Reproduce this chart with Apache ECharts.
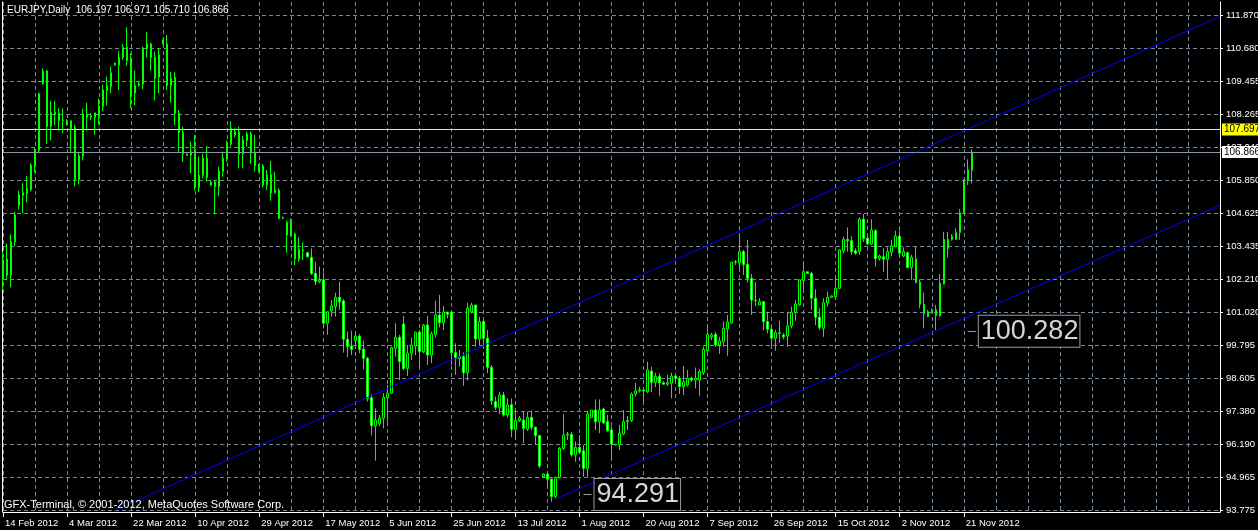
<!DOCTYPE html>
<html>
<head>
<meta charset="utf-8">
<script src="https://cdn.jsdelivr.net/npm/echarts@6/dist/echarts.min.js"></script>
<style>
html,body{margin:0;padding:0;background:#000;}
#chart{width:1258px;height:530px;}
</style>
</head>
<body>
<div id="chart"></div>
<script>
// ---------------- data ----------------
const symbolName = 'EURJPY,Daily';
const copyrightText = 'GFX-Terminal, \u00a9 2001-2012, MetaQuotes Software Corp.';

// date labels shown every 16 bars (bars include Sundays)
const xTickLabels = ['14 Feb 2012','4 Mar 2012','22 Mar 2012','10 Apr 2012','29 Apr 2012','17 May 2012',
  '5 Jun 2012','25 Jun 2012','13 Jul 2012','1 Aug 2012','20 Aug 2012','7 Sep 2012','26 Sep 2012',
  '15 Oct 2012','2 Nov 2012','21 Nov 2012'];
const barsPerDateLabel = 16;
const barsPerGridLine = 8;
const totalSlots = 305; // bars + empty chart shift on the right

const opens = [
102.19,102.94,102.34,103.57,104.91,105.28,105.35,105.49,106.38,106.93,
109.38,109.85,107.81,108.33,108.30,108.04,108.02,108.02,107.76,105.85,
106.71,108.26,108.15,108.14,108.27,108.54,109.13,109.27,110.06,110.06,
110.34,110.72,110.25,109.03,109.32,109.36,110.67,110.84,110.35,109.62,
110.99,110.84,109.31,109.61,108.29,107.58,106.79,106.76,106.91,105.56,
106.01,106.64,105.76,105.60,105.60,106.15,106.62,107.15,107.49,107.61,
106.79,107.29,107.53,106.84,106.31,106.36,105.66,106.03,105.37,105.47,
104.43,103.82,104.29,103.86,102.94,103.27,103.17,103.00,102.41,102.11,
102.17,100.58,101.03,101.19,101.53,101.40,99.99,99.74,99.94,100.11,
99.63,99.29,97.84,96.81,96.90,97.09,97.84,98.01,99.66,100.06,
100.55,98.92,99.48,99.75,100.25,99.53,100.51,99.41,100.17,100.88,
100.60,100.99,100.99,99.50,99.29,99.35,98.76,100.99,101.25,100.00,
100.64,100.03,98.96,97.70,97.49,97.94,97.21,97.58,96.68,97.00,
97.02,96.69,97.12,96.76,96.45,94.94,95.04,94.85,94.21,94.92,
95.98,96.47,96.50,95.74,96.02,95.89,95.25,97.12,97.39,96.96,
97.43,96.96,96.66,96.13,96.11,96.51,96.96,97.00,97.98,98.09,
98.13,98.06,98.82,98.41,98.62,98.39,98.34,98.37,98.64,98.56,
98.25,98.31,98.56,98.49,98.49,98.76,99.57,100.08,100.17,99.78,
99.90,100.37,100.60,102.82,102.80,103.21,102.74,102.23,101.43,101.25,
101.37,100.64,100.36,100.03,100.23,100.15,100.11,100.48,100.97,101.25,
102.14,102.47,102.41,101.50,100.80,100.39,101.33,101.53,101.55,101.86,
103.24,103.66,103.61,103.24,103.21,104.40,103.70,103.49,103.98,102.96,
103.02,102.93,103.19,103.39,103.78,103.05,103.17,102.63,102.94,102.09,
101.28,100.82,101.00,101.07,100.86,102.02,103.66,103.66,103.66,103.91,
104.64,105.82,106.197];

const highs = [
103.19,103.51,103.84,104.67,105.45,105.73,106.00,106.46,107.05,109.05,
109.95,109.89,108.75,108.75,108.48,108.46,108.08,108.02,107.87,106.83,
108.46,108.68,108.30,108.31,108.83,109.34,109.64,110.01,110.15,110.58,
110.84,111.45,110.50,109.86,109.48,110.74,111.27,110.89,110.56,110.68,
110.99,111.17,109.82,109.80,108.41,107.80,106.82,107.25,107.49,106.70,
106.80,107.09,105.84,105.84,106.33,106.88,107.29,108.00,107.74,107.80,
107.46,107.62,107.62,107.49,106.43,106.43,106.21,106.54,106.15,105.54,
104.50,104.35,104.43,103.91,103.74,103.55,103.19,103.33,102.84,102.66,
102.44,101.00,101.43,101.70,102.11,101.46,100.27,100.31,100.21,100.18,
99.94,99.35,97.98,97.45,97.21,98.01,98.31,99.72,100.58,100.15,
100.85,99.78,100.06,100.27,100.33,100.55,100.85,100.27,101.40,101.62,
101.21,100.99,101.03,99.84,99.60,99.50,101.33,101.33,101.25,100.82,
100.70,100.33,99.04,97.88,98.06,98.06,97.82,97.82,97.33,97.17,
97.33,97.33,97.37,96.78,96.47,95.07,95.13,94.88,94.94,96.04,
97.24,96.59,96.59,96.23,96.47,96.11,97.37,97.39,97.78,97.78,
97.48,97.21,96.78,96.14,96.84,97.39,97.17,98.04,98.39,98.25,
98.13,99.17,98.98,98.76,98.74,98.45,98.68,98.76,98.74,98.64,
99.01,98.86,98.62,98.95,98.89,99.72,100.45,100.23,100.27,100.08,
100.64,100.88,102.84,102.90,103.86,103.27,103.64,102.39,102.09,101.50,
101.40,101.00,100.45,100.33,100.67,100.21,101.00,101.19,101.43,102.19,
102.80,102.47,102.47,101.83,101.13,101.50,101.74,101.60,102.31,103.30,
103.76,104.10,103.78,103.33,104.47,104.59,103.78,104.40,104.03,103.11,
103.33,103.37,103.64,103.98,103.98,103.37,103.21,103.09,103.39,102.19,
101.70,101.07,101.13,101.25,102.38,103.94,103.94,103.85,104.07,104.77,
105.87,106.60,106.971];

const lows = [
101.79,102.16,101.90,103.41,104.75,104.63,105.02,105.42,106.11,106.85,
109.34,107.17,107.29,107.86,107.66,107.56,107.83,106.89,105.61,105.68,
106.56,107.66,108.05,107.50,107.87,108.36,108.58,109.03,110.05,109.15,
110.25,110.04,108.48,108.58,109.27,109.18,110.34,109.86,108.76,109.03,
110.83,109.15,108.68,107.86,106.88,106.51,106.74,106.09,105.45,105.41,
105.90,105.78,105.64,104.58,105.25,105.96,106.51,107.07,107.41,106.27,
106.27,107.07,106.43,106.15,106.12,105.57,105.47,105.08,105.35,104.40,
104.40,103.17,103.76,102.72,102.84,102.90,103.00,102.35,101.98,102.05,
100.39,100.15,100.82,100.82,101.07,99.50,99.33,99.41,99.78,99.48,
98.89,97.70,96.45,95.53,96.80,96.72,96.96,97.98,99.35,98.49,
98.86,98.64,99.23,99.41,99.01,99.48,99.04,99.11,100.06,100.43,
100.33,100.76,99.04,98.68,98.98,98.28,98.47,100.94,99.72,99.78,
99.75,98.74,97.58,97.39,97.24,97.15,97.12,96.39,96.35,96.95,
96.17,96.62,96.66,96.11,95.25,94.90,94.52,94.02,94.15,94.88,
95.92,96.29,95.68,95.49,95.80,94.94,94.94,97.09,96.66,96.54,
96.88,96.59,95.55,96.10,95.92,96.47,96.66,96.96,97.88,98.03,
97.66,98.01,98.04,98.23,97.91,98.31,98.27,97.82,98.37,97.98,
97.94,98.25,98.43,98.19,97.91,98.68,99.50,99.96,99.72,99.45,
99.72,99.38,100.55,102.72,102.54,102.35,102.07,100.88,101.21,101.25,
100.33,100.21,99.66,99.57,99.86,99.99,99.72,100.39,100.67,101.21,
101.70,102.39,101.07,100.51,100.33,100.08,101.19,101.50,101.53,101.83,
103.15,103.21,103.09,103.09,103.09,103.57,103.45,103.45,102.66,102.88,
102.47,102.17,103.05,103.37,103.09,103.00,102.60,102.17,102.05,101.13,
100.39,100.80,100.94,100.33,100.82,102.01,103.00,103.61,103.64,103.64,
104.59,105.66,105.710];

const closes = [
102.92,102.34,103.58,104.56,105.30,105.38,105.52,106.39,106.94,109.01,
109.84,107.81,108.33,108.27,108.03,108.03,107.88,107.73,105.85,106.73,
108.27,108.15,108.20,108.31,108.57,109.15,109.30,109.79,110.14,110.35,
110.72,110.23,109.03,109.32,109.37,110.69,110.84,110.35,109.58,110.44,
110.83,109.31,109.58,108.29,107.58,106.80,106.75,106.88,105.60,106.01,
106.64,105.94,105.65,105.77,106.17,106.64,107.16,107.74,107.61,106.79,
107.31,107.53,106.84,106.37,106.15,105.66,106.03,105.37,105.47,104.43,
104.47,104.29,103.82,102.94,103.30,103.24,103.02,102.41,102.11,102.17,
100.58,101.00,101.21,101.53,101.37,99.99,99.72,99.62,100.11,99.62,
99.29,97.82,96.81,97.02,97.09,97.86,98.01,99.68,100.06,99.17,
98.92,99.48,99.78,100.25,99.53,100.51,99.41,100.18,100.88,100.60,
100.99,100.91,99.50,99.29,99.35,98.76,101.13,101.25,100.00,100.64,
100.03,98.96,97.73,97.49,97.94,97.21,97.58,96.68,97.00,97.09,
96.72,97.12,96.76,96.45,95.33,95.04,94.85,94.21,94.92,95.98,
96.47,96.50,95.74,96.02,95.84,95.25,97.23,97.39,96.96,97.39,
96.92,96.63,96.14,96.11,96.54,96.96,97.00,97.98,98.09,98.13,
98.09,98.86,98.41,98.62,98.39,98.34,98.39,98.64,98.56,98.25,
98.43,98.56,98.49,98.56,98.80,99.62,100.17,100.15,99.78,99.93,
100.39,100.62,102.82,102.84,103.21,102.74,102.23,101.43,101.41,101.37,
100.64,100.36,100.03,100.23,100.21,100.08,100.48,100.97,101.29,102.17,
102.47,102.41,101.50,100.80,100.42,101.33,101.53,101.58,101.86,103.27,
103.66,103.61,103.21,103.15,104.40,103.70,103.49,104.00,102.96,103.05,
102.93,103.21,103.42,103.78,103.15,103.21,102.63,103.00,102.07,101.28,
100.94,101.00,101.07,100.86,102.05,103.66,103.33,103.76,103.92,104.64,
105.84,106.21,106.866];

// price scale (right axis)
const yTickLabels = ['111.870','110.680','109.455','108.265','107.040','105.850','104.625','103.435',
  '102.210','101.020','99.795','98.605','97.380','96.190','94.965','93.775'];
const yTickValues = [111.892,110.680,109.467,108.255,107.043,105.830,104.618,103.405,
  102.193,100.981,99.768,98.556,97.344,96.131,94.919,93.707];
const priceMin = 93.644;
const priceMax = 112.381;

// horizontal levels and annotations
const yellowLevel = 107.697;
const bidLevel = 106.866;
const lowLabel = {from: 145, to: 147, value: 94.291};
const swingLabel = {from: 241, to: 243, value: 100.282};

// channel lines [barIndex, price]
const upperChannel = [[28, 93.707], [304, 111.852]];
const lowerChannel = [[138, 94.122], [304, 104.912]];

// ---------------- chart ----------------
const FONT = "Tahoma,'Liberation Sans',Arial,sans-serif";
const FS = 9.5;
const categories = [];
for (let i = 0; i < totalSlots; i++) {
  const k = i / barsPerDateLabel;
  categories.push(Number.isInteger(k) && k < xTickLabels.length ? xTickLabels[k] : 'bar' + i);
}
const isDateTick = (i) => i % barsPerDateLabel === 0 && i / barsPerDateLabel < xTickLabels.length;
const candles = opens.map((o, i) => [o, closes[i], lows[i], highs[i]]);
const last = opens.length - 1;
const header = symbolName + '  ' + [opens[last], highs[last], lows[last], closes[last]].map(v => v.toFixed(3)).join(' ');

function yLabel(v) {
  for (let i = 0; i < yTickValues.length; i++) if (Math.abs(yTickValues[i] - v) < 1e-6) return yTickLabels[i];
  return '';
}

function boxLabel(value) {
  return {
    show: true, position: 'end', distance: 3,
    formatter: () => value.toFixed(3),
    color: '#d6d6d6', fontSize: 27, fontFamily: "'Liberation Sans',sans-serif",
    backgroundColor: '#000', borderColor: '#9a9a9a', borderWidth: 1,
    padding: [3, 1, 1, 2], lineHeight: 27
  };
}
function levelLabel(value, bg) {
  return {
    show: true, position: 'end', distance: 2, formatter: () => value.toFixed(3),
    backgroundColor: bg, color: '#000000', fontSize: 10, fontFamily: FONT,
    padding: [1, 4, 1, 2], lineHeight: 10
  };
}

const chart = echarts.init(document.getElementById('chart'), null, {renderer: 'canvas'});
chart.setOption({
  backgroundColor: '#000000',
  animation: false,
  title: [
    {text: header, left: 7, top: 5, padding: 0,
     textStyle: {color: '#ffffff', fontSize: 10, fontWeight: 'normal', fontFamily: FONT}},
    {text: copyrightText, left: 4, top: 499, padding: 0,
     textStyle: {color: '#ffffff', fontSize: 11, fontWeight: 'normal', fontFamily: FONT}}
  ],
  grid: {left: 3, right: 38, top: 2, bottom: 18, containLabel: false, outerBoundsMode: 'none'},
  xAxis: {
    type: 'category', data: categories, boundaryGap: false,
    axisLine: {show: true, lineStyle: {color: '#ffffff', width: 1}},
    axisTick: {show: true, interval: isDateTick, length: 5, lineStyle: {color: '#ffffff'}},
    axisLabel: {interval: isDateTick, formatter: (v) => v.indexOf('bar') === 0 ? '' : v,
      align: 'left', padding: [0, 0, 0, 2], margin: 6, color: '#ffffff', fontSize: FS, fontFamily: FONT},
    splitLine: {show: true, interval: (i) => i % barsPerGridLine === 0,
      lineStyle: {color: '#778899', width: 1, type: [4, 3]}}
  },
  yAxis: [{
    type: 'value', position: 'right', min: priceMin, max: priceMax,
    axisLine: {show: true, lineStyle: {color: '#ffffff', width: 1}},
    axisTick: {show: true, length: 3, customValues: yTickValues, lineStyle: {color: '#ffffff'}},
    axisLabel: {customValues: yTickValues, formatter: yLabel, margin: 6,
      color: '#ffffff', fontSize: FS, fontFamily: FONT},
    splitLine: {show: true, lineStyle: {color: '#778899', width: 1, type: [4, 3]}}
  }, {
    type: 'value', position: 'left', min: priceMin, max: priceMax, offset: 1,
    axisLine: {show: true, lineStyle: {color: '#ffffff', width: 1}},
    axisTick: {show: false}, axisLabel: {show: false}, splitLine: {show: false}
  }],
  series: [{
    type: 'candlestick', name: 'EURJPY', data: candles, barWidth: 2,
    itemStyle: {color: '#000000', color0: '#ffffff', borderColor: '#00ff00', borderColor0: '#00ff00',
      borderColorDoji: '#00ff00', borderWidth: 1},
    markLine: {
      silent: true, symbol: ['none', 'none'], animation: false, precision: 3,
      label: {show: false},
      lineStyle: {type: 'solid', width: 1},
      data: [
        {yAxis: yellowLevel, lineStyle: {color: '#ffff00', type: 'solid', width: 1},
         label: levelLabel(yellowLevel, '#ffff00')},
        {yAxis: bidLevel, lineStyle: {color: '#8a97a8', type: 'solid', width: 1},
         label: levelLabel(bidLevel, '#ffffff')},
        [{coord: [lowLabel.from, lowLabel.value], lineStyle: {color: '#a0a0a0', type: 'solid', width: 1}},
         {coord: [lowLabel.to, lowLabel.value], label: boxLabel(lowLabel.value)}],
        [{coord: [swingLabel.from, swingLabel.value], lineStyle: {color: '#a0a0a0', type: 'solid', width: 1}},
         {coord: [swingLabel.to, swingLabel.value], label: boxLabel(swingLabel.value)}]
      ]
    }
  }, {
    type: 'line', name: 'upper channel', data: upperChannel, showSymbol: false, symbol: 'none',
    lineStyle: {color: '#0000ff', width: 1}, silent: true, z: 3
  }, {
    type: 'line', name: 'lower channel', data: lowerChannel, showSymbol: false, symbol: 'none',
    lineStyle: {color: '#0000ff', width: 1}, silent: true, z: 3
  }]
});
</script>
</body>
</html>
